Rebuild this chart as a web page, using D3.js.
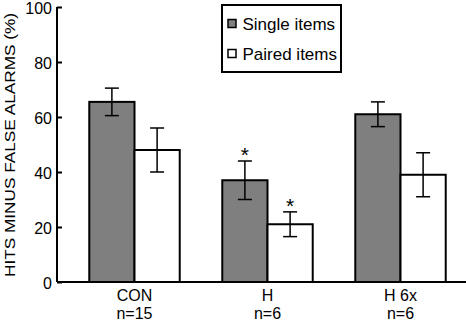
<!DOCTYPE html>
<html>
<head>
<meta charset="utf-8">
<script src="https://cdn.jsdelivr.net/npm/d3@7"></script>
<style>
  body { margin: 0; background: #fff; }
  svg text { font-family: "Liberation Sans", Arial, sans-serif; }
</style>
</head>
<body>
<div id="chart"></div>
<script>
// data
const groups = ["CON", "H", "H 6x"];
const groupN = ["n=15", "n=6", "n=6"];
const seriesNames = ["Single items", "Paired items"];
const singleVals = [65.5, 37, 61];
const singleErr = [5, 7, 4.5];
const pairedVals = [48, 21, 39];
const pairedErr = [8, 4.5, 8];
const singleStar = [false, true, false];
const pairedStar = [false, true, false];
const yTicks = [0, 20, 40, 60, 80, 100];

const width = 466, height = 322;
const margin = { top: 7, right: 0, bottom: 40, left: 57 };

const svg = d3.select("#chart").append("svg")
    .attr("width", width)
    .attr("height", height);

const y = d3.scaleLinear().domain([0, 100]).range([height - margin.bottom, margin.top]);
const x = d3.scaleBand().domain(groups).range([68, 467]).paddingInner(0.32).paddingOuter(0.16);
const xs = d3.scaleBand().domain(seriesNames).range([0, x.bandwidth()]);

const series = [
    { name: seriesNames[0], vals: singleVals, err: singleErr, star: singleStar, fill: "#7f7f7f" },
    { name: seriesNames[1], vals: pairedVals, err: pairedErr, star: pairedStar, fill: "#ffffff" }
];

// bars
series.forEach(s => {
    const g = svg.append("g");
    g.selectAll("rect").data(groups).enter().append("rect")
        .attr("x", d => x(d) + xs(s.name))
        .attr("y", (d, i) => y(s.vals[i]))
        .attr("width", xs.bandwidth())
        .attr("height", (d, i) => y(0) - y(s.vals[i]))
        .attr("fill", s.fill)
        .attr("stroke", "#000")
        .attr("stroke-width", 2);

    // error bars
    groups.forEach((d, i) => {
        const cx = x(d) + xs(s.name) + xs.bandwidth() / 2;
        const top = y(s.vals[i] + s.err[i]), bot = y(s.vals[i] - s.err[i]);
        g.append("line").attr("x1", cx).attr("x2", cx).attr("y1", top).attr("y2", bot)
            .attr("stroke", "#000").attr("stroke-width", 1.5);
        [top, bot].forEach(yy => g.append("line")
            .attr("x1", cx - 7).attr("x2", cx + 7).attr("y1", yy).attr("y2", yy)
            .attr("stroke", "#000").attr("stroke-width", 1.5));
        if (s.star[i]) {
            g.append("text").attr("x", cx).attr("y", top + 1)
                .attr("text-anchor", "middle")
                .attr("font-size", 21)
                .text("*");
        }
    });
});

// y axis
const yAxis = svg.append("g")
    .attr("transform", `translate(${margin.left},0)`)
    .call(d3.axisLeft(y).tickValues(yTicks).tickSize(-5).tickPadding(4));
yAxis.attr("font-family", null);
yAxis.select(".domain").attr("stroke-width", 2).attr("d", `M0,${y(100)}V${y(0)}`);
yAxis.selectAll(".tick line").attr("stroke-width", 2);
yAxis.selectAll(".tick text").attr("font-size", 16).attr("fill", "#000").attr("x", -5).attr("dy", "0.38em");

// x axis baseline
svg.append("line")
    .attr("x1", margin.left).attr("x2", width)
    .attr("y1", y(0)).attr("y2", y(0))
    .attr("stroke", "#000").attr("stroke-width", 2);

// category labels
const lab = svg.append("g").attr("font-size", 16).attr("text-anchor", "middle");
groups.forEach((d, i) => {
    const cx = x(d) + x.bandwidth() / 2;
    lab.append("text").attr("x", cx).attr("y", 300.5).text(d);
    lab.append("text").attr("x", cx).attr("y", 319).text(groupN[i]);
});

// y label
svg.append("text")
    .attr("transform", `translate(15,145) rotate(-90)`)
    .attr("text-anchor", "middle")
    .attr("font-size", 15)
    .attr("textLength", 264)
    .attr("lengthAdjust", "spacingAndGlyphs")
    .text("HITS MINUS FALSE ALARMS (%)");

// legend
const leg = svg.append("g").attr("transform", "translate(222,5)");
leg.append("rect").attr("width", 119).attr("height", 67)
    .attr("fill", "#fff").attr("stroke", "#000").attr("stroke-width", 2);
series.forEach((s, i) => {
    const ly = 19 + i * 30;
    leg.append("rect").attr("x", 6).attr("y", ly - 4.5).attr("width", 8).attr("height", 8)
        .attr("fill", s.fill).attr("stroke", "#000").attr("stroke-width", 1.5);
    leg.append("text").attr("x", 20.5).attr("y", ly + 6)
        .attr("font-size", 17).text(s.name);
});
</script>
</body>
</html>
